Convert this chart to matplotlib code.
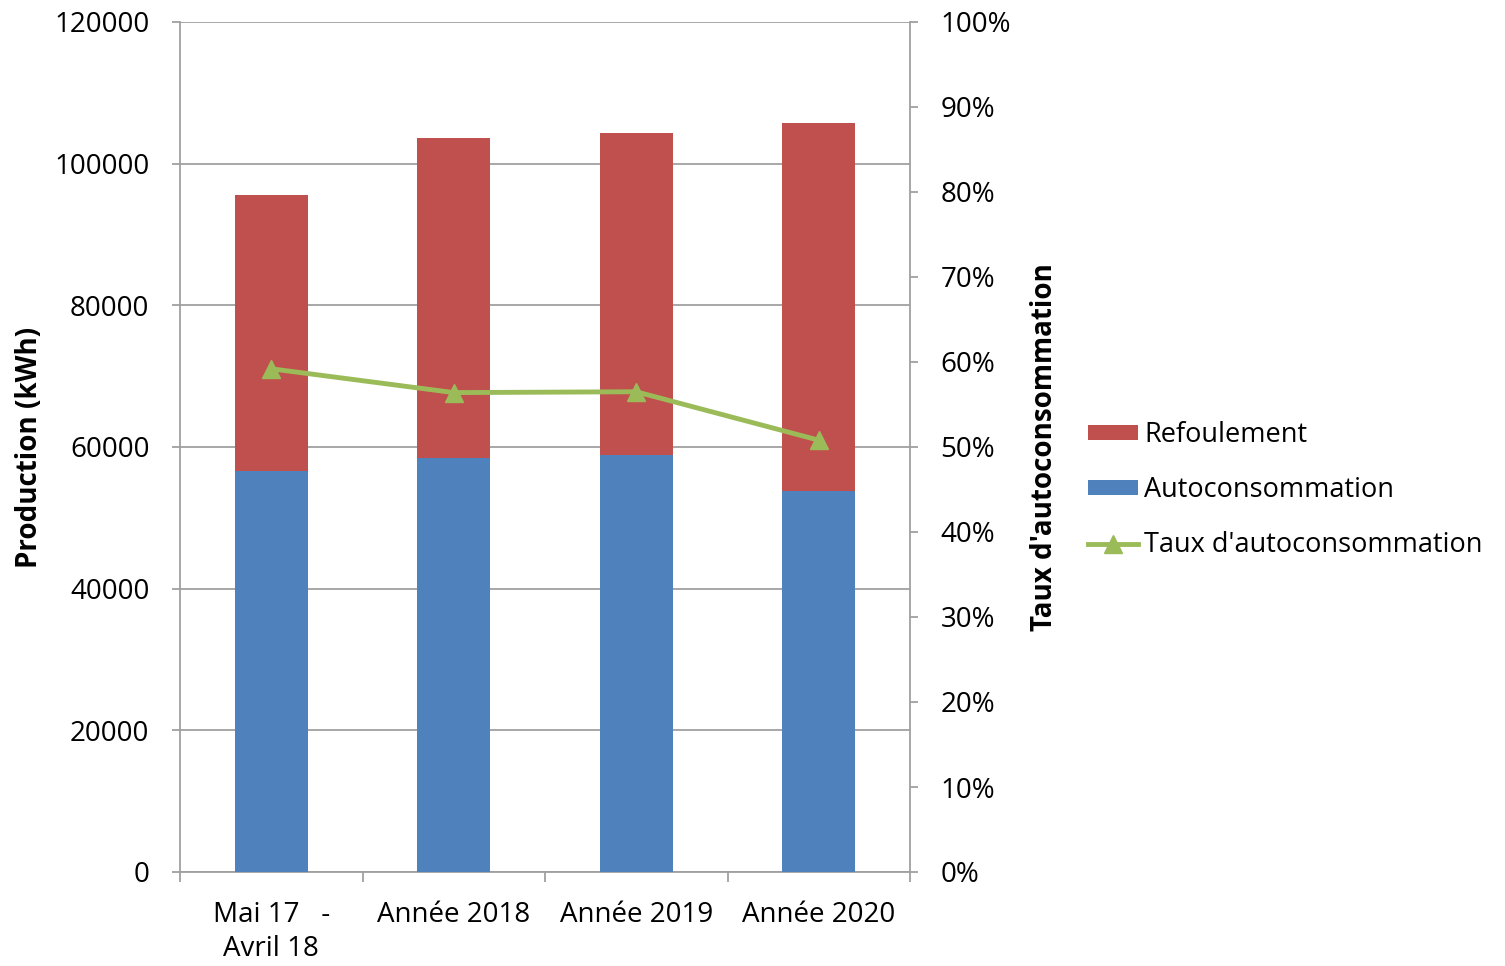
import matplotlib.pyplot as plt
from matplotlib.ticker import FixedLocator, FuncFormatter

plt.rcParams["font.family"] = ["Open Sans", "DejaVu Sans"]

categories = ["Mai 17   -\nAvril 18", "Année 2018", "Année 2019", "Année 2020"]
autoconso = [56600, 58400, 58900, 53800]
refoulement = [39000, 45200, 45400, 51900]
taux = [0.592, 0.564, 0.565, 0.508]

red = "#C0504D"
blue = "#4F81BD"
green = "#9BBB59"
grey = "#A0A0A0"
fs = 20

fig = plt.figure(figsize=(15.05, 9.66), dpi=100)
ax = fig.add_axes([180 / 1505, 1 - 872 / 966, 730 / 1505, 850 / 966])

x = list(range(len(categories)))
ax.bar(x, autoconso, width=0.4, color=blue, label="Autoconsommation", zorder=3)
ax.bar(x, refoulement, width=0.4, bottom=autoconso, color=red, label="Refoulement", zorder=3)

ax.set_xlim(-0.5, len(categories) - 0.5)
ax.set_ylim(0, 120000)
ax.set_yticks(range(0, 120001, 20000))
ax.yaxis.grid(True, color=grey, linewidth=1.3, zorder=0)
ax.set_xticks(x)
ax.set_xticklabels(categories, fontsize=fs, linespacing=1.3)
ax.xaxis.set_minor_locator(FixedLocator([i - 0.5 for i in range(len(categories) + 1)]))
ax.tick_params(axis="x", which="major", length=0, pad=21)
ax.tick_params(axis="x", which="minor", length=7, color=grey, width=1.3)
ax.tick_params(axis="y", length=6, color=grey, width=1.3, labelsize=fs, pad=16)
ax.spines["top"].set_visible(False)
ax.spines["right"].set_visible(False)
for s in ["left", "bottom"]:
    ax.spines[s].set_color(grey)
    ax.spines[s].set_linewidth(1.3)
ax.set_ylabel("Production (kWh)", fontsize=fs, fontweight="bold", labelpad=7)

ax2 = ax.twinx()
ax2.plot(x, taux, color=green, linewidth=3.5, marker="^", markersize=13,
         label="Taux d'autoconsommation", zorder=4)
ax2.set_ylim(0, 1)
ax2.set_yticks([i / 10 for i in range(11)])
ax2.yaxis.set_major_formatter(FuncFormatter(lambda v, p: f"{v * 100:.0f}%"))
ax2.tick_params(axis="y", length=6, color=grey, width=1.3, labelsize=fs, pad=16)
for s in ["top", "left", "bottom"]:
    ax2.spines[s].set_visible(False)
ax2.spines["right"].set_color(grey)
ax2.spines["right"].set_linewidth(1.3)
ax2.set_ylabel("Taux d'autoconsommation", fontsize=fs, fontweight="bold", labelpad=14)

h1, l1 = ax.get_legend_handles_labels()
h2, l2 = ax2.get_legend_handles_labels()
fig.legend([h1[1], h1[0], h2[0]], [l1[1], l1[0], l2[0]],
           loc="center left", bbox_to_anchor=(1064 / 1505, 1 - 490 / 966),
           frameon=False, fontsize=19.5, handlelength=1.85, handleheight=0.45,
           handletextpad=0.2, labelspacing=1.0)

fig.savefig("out.png", dpi=100)
